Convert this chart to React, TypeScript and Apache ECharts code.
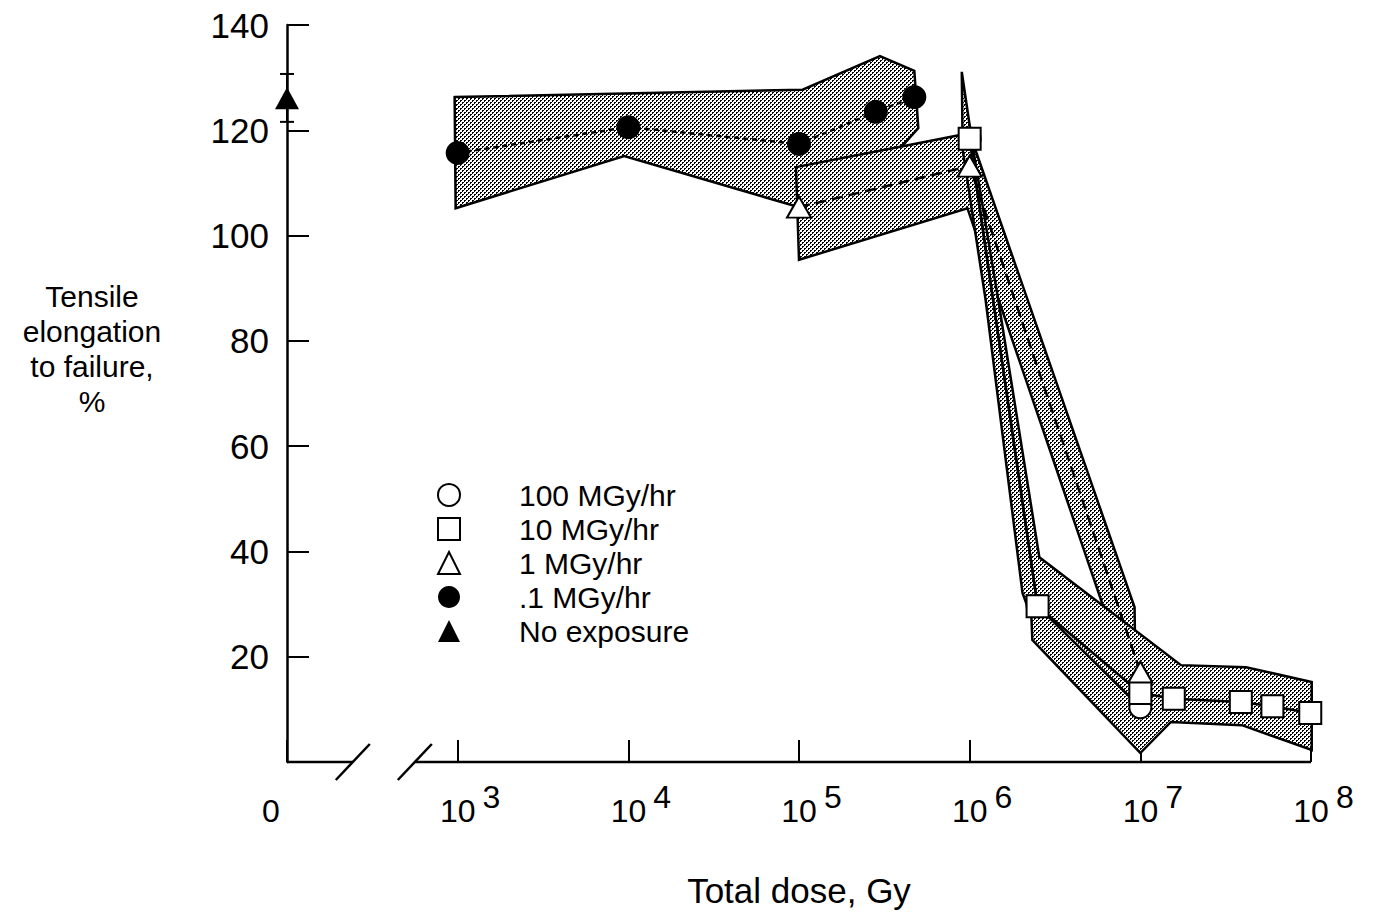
import React, { useEffect, useRef } from 'react';
import * as echarts from 'echarts';

const FONT = '"Liberation Sans", Arial, Helvetica, sans-serif';

// ---------- data (dose in Gy, value in %) ----------
const seriesNames = ['100 MGy/hr', '10 MGy/hr', '1 MGy/hr', '.1 MGy/hr', 'No exposure'];

const rate100Dose = [1e6, 2.5e6, 1e7];
const rate100Value = [118.4, 29.6, 10.4];

const rate10Dose = [1e6, 2.5e6, 1e7, 1.57e7, 3.88e7, 5.94e7, 9.9e7];
const rate10Value = [118.4, 29.6, 13.1, 12.0, 11.4, 10.6, 9.3];

const rate1Dose = [1e5, 1e6, 1e7];
const rate1Value = [105.4, 113.2, 17.1];

const rate01Dose = [1e3, 1e4, 1e5, 2.82e5, 4.74e5];
const rate01Value = [115.7, 120.6, 117.4, 123.5, 126.3];

const noExposureDose = [100];
const noExposureValue = [126.1];
const noExposureLow = [121.6];
const noExposureHigh = [130.7];

// scatter bands (polygon outlines), [dose, value]
const band01: number[][] = [
  [960, 126.3], [1.05e5, 127.7], [2.98e5, 134.1], [4.74e5, 131.3], [5.0e5, 120.4],
  [2.61e5, 110.2], [1e5, 105.4], [9.46e3, 115.1], [973, 105.2],
];
const band1: number[][] = [
  [9.6e4, 113.0], [1.01e6, 119.5], [1.08e6, 116.3], [9.25e6, 29.4], [9.35e6, 18.4],
  [6.45e6, 27.0], [9.7e5, 105.2], [1e5, 95.4],
];
const band10: number[][] = [
  [8.99e5, 131.1], [1.05e6, 116.3], [1.47e6, 87.8], [2.56e6, 38.9], [1.73e7, 18.4],
  [4.16e7, 18.0], [1.01e8, 15.2], [1.01e8, 2.3], [3.94e7, 7.0], [1.51e7, 7.6],
  [1.0e7, 1.7], [2.33e6, 23.2], [2.30e6, 27.5], [2.04e6, 32.1], [1.24e6, 87.8],
  [9.1e5, 116.3],
];

// axes
const xMin = 100;
const xMax = 1e8;
const yMin = 0;
const yMax = 140;
const yInterval = 20;
const axisBreakDoses = [243, 561];

const zip = (xs: number[], ys: number[]) => xs.map((x, i) => [x, ys[i]]);

function makeHalftone() {
  const c = document.createElement('canvas');
  c.width = 4;
  c.height = 4;
  const g = c.getContext('2d')!;
  g.fillStyle = '#ffffff';
  g.fillRect(0, 0, 4, 4);
  g.fillStyle = '#000000';
  g.fillRect(0, 0, 2, 1);
  g.fillRect(0, 1, 1, 1);
  g.fillRect(2, 2, 2, 1);
  g.fillRect(2, 3, 1, 1);
  return c;
}

export default function App() {
  const ref = useRef<HTMLDivElement>(null);

  useEffect(() => {
    if (!ref.current) return;
    const chart = echarts.init(ref.current, undefined, { renderer: 'svg' });
    const pattern: any = { image: makeHalftone(), repeat: 'repeat' };

    const bandSeries = (pts: number[][]) => ({
      type: 'custom',
      coordinateSystem: 'cartesian2d',
      data: pts,
      encode: { x: 0, y: 1 },
      clip: false,
      silent: true,
      z: 1,
      renderItem: (params: any, api: any) => {
        if (params.dataIndex !== 0) return null;
        const points = pts.map((p) => api.coord(p));
        return {
          type: 'polygon',
          shape: { points },
          style: { fill: pattern, stroke: '#000', lineWidth: 2.5, lineJoin: 'miter' },
        };
      },
    });

    const blackLine = { stroke: '#000', lineWidth: 2.5 };

    const option: any = {
      animation: false,
      backgroundColor: '#fff',
      grid: { left: 287, right: 63, top: 25, bottom: 154, containLabel: false },
      xAxis: {
        type: 'log',
        logBase: 10,
        min: xMin,
        max: xMax,
        axisLine: { show: false },
        axisTick: { show: true, inside: true, length: 22, lineStyle: { color: '#000', width: 2 } },
        splitLine: { show: false },
        minorTick: { show: false },
        axisLabel: {
          showMinLabel: true,
          showMaxLabel: true,
          margin: 19,
          color: '#000',
          formatter: (v: number) => {
            if (v <= 100.5) return '{z|0}';
            const n = Math.round(Math.log10(v));
            return '{b|10}{s|' + n + '}';
          },
          rich: {
            b: { fontSize: 32, fontFamily: FONT, color: '#000', padding: [14, 0, 0, 25] },
            s: { fontSize: 32, fontFamily: FONT, color: '#000', padding: [0, 0, 14, 7] },
            z: { fontSize: 32, fontFamily: FONT, color: '#000', padding: [14, 32, 0, 0] },
          },
        },
        name: 'Total dose, Gy',
        nameLocation: 'middle',
        nameGap: 111,
        nameTextStyle: { fontSize: 35, fontFamily: FONT, color: '#000' },
      },
      yAxis: {
        type: 'value',
        min: yMin,
        max: yMax,
        interval: yInterval,
        axisLine: { show: true, lineStyle: { color: '#000', width: 2.5 } },
        axisTick: { show: true, inside: true, length: 22, lineStyle: { color: '#000', width: 2 } },
        splitLine: { show: false },
        axisLabel: {
          margin: 18,
          fontSize: 35,
          fontFamily: FONT,
          color: '#000',
          formatter: (v: number) => (v === 0 ? '' : String(v)),
        },
      },
      legend: {
        orient: 'vertical',
        left: 437,
        top: 480,
        padding: 0,
        itemWidth: 22,
        itemHeight: 22,
        itemGap: 4,
        selectedMode: false,
        textStyle: { fontSize: 30, fontFamily: FONT, color: '#000', padding: [0, 0, 0, 54] },
        data: [
          { name: seriesNames[0], icon: 'circle', itemStyle: { color: '#fff', borderColor: '#000', borderWidth: 2, opacity: 1 } },
          { name: seriesNames[1], icon: 'rect', itemStyle: { color: '#fff', borderColor: '#000', borderWidth: 2, opacity: 1 } },
          { name: seriesNames[2], icon: 'triangle', itemStyle: { color: '#fff', borderColor: '#000', borderWidth: 2, opacity: 1 } },
          { name: seriesNames[3], icon: 'circle', itemStyle: { color: '#000', borderColor: '#000', borderWidth: 0, opacity: 1 } },
          { name: seriesNames[4], icon: 'triangle', itemStyle: { color: '#000', borderColor: '#000', borderWidth: 0, opacity: 1 } },
        ],
      },
      graphic: [
        {
          type: 'text',
          x: 92,
          y: 279,
          style: {
            text: 'Tensile\nelongation\nto failure,\n%',
            fontSize: 30,
            fontFamily: FONT,
            fill: '#000',
            align: 'center',
            verticalAlign: 'top',
            lineHeight: 35,
          },
        },
      ],
      series: [
        // broken x axis line
        {
          type: 'custom',
          coordinateSystem: 'cartesian2d',
          data: [[xMin, 0]],
          clip: false,
          silent: true,
          z: 0,
          renderItem: (params: any, api: any) => {
            const o = api.coord([xMin, 0]);
            const a = api.coord([axisBreakDoses[0], 0]);
            const b = api.coord([axisBreakDoses[1], 0]);
            const e = api.coord([xMax, 0]);
            return {
              type: 'group',
              children: [
                { type: 'line', shape: { x1: o[0], y1: o[1], x2: a[0], y2: a[1] }, style: blackLine },
                { type: 'line', shape: { x1: b[0], y1: b[1], x2: e[0], y2: e[1] }, style: blackLine },
                { type: 'line', shape: { x1: a[0] - 17, y1: a[1] + 18, x2: a[0] + 17, y2: a[1] - 18 }, style: blackLine },
                { type: 'line', shape: { x1: b[0] - 17, y1: b[1] + 18, x2: b[0] + 17, y2: b[1] - 18 }, style: blackLine },
              ],
            };
          },
        },
        bandSeries(band01),
        bandSeries(band1),
        bandSeries(band10),
        {
          name: seriesNames[3],
          type: 'line',
          data: zip(rate01Dose, rate01Value),
          symbol: 'circle',
          symbolSize: 24,
          showAllSymbol: true,
          clip: false,
          z: 3,
          itemStyle: { color: '#000', borderColor: '#000', borderWidth: 0, opacity: 1 },
          lineStyle: { color: '#000', width: 2.5, type: [5, 4] },
        },
        {
          name: seriesNames[0],
          type: 'line',
          data: zip(rate100Dose, rate100Value),
          symbol: 'circle',
          symbolSize: 22,
          showAllSymbol: true,
          clip: false,
          z: 3,
          itemStyle: { color: '#fff', borderColor: '#000', borderWidth: 2, opacity: 1 },
          lineStyle: { color: '#000', width: 2.5, type: 'solid' },
        },
        {
          name: seriesNames[1],
          type: 'line',
          data: zip(rate10Dose, rate10Value),
          symbol: 'rect',
          symbolSize: 22,
          showAllSymbol: true,
          clip: false,
          z: 4,
          itemStyle: { color: '#fff', borderColor: '#000', borderWidth: 2, opacity: 1 },
          lineStyle: { color: '#000', width: 2.5, type: 'solid' },
        },
        {
          name: seriesNames[2],
          type: 'line',
          data: zip(rate1Dose, rate1Value),
          symbol: 'triangle',
          symbolSize: [24, 21],
          showAllSymbol: true,
          clip: false,
          z: 5,
          itemStyle: { color: '#fff', borderColor: '#000', borderWidth: 2, opacity: 1 },
          lineStyle: { color: '#000', width: 2.5, type: [11, 6] },
        },
        // error bar for unexposed sample
        {
          type: 'custom',
          coordinateSystem: 'cartesian2d',
          data: noExposureDose.map((d, i) => [d, noExposureLow[i], noExposureHigh[i]]),
          encode: { x: 0, y: [1, 2] },
          clip: false,
          silent: true,
          z: 5,
          renderItem: (params: any, api: any) => {
            const lo = api.coord([api.value(0), api.value(1)]);
            const hi = api.coord([api.value(0), api.value(2)]);
            return {
              type: 'group',
              children: [
                { type: 'line', shape: { x1: lo[0], y1: lo[1], x2: hi[0], y2: hi[1] }, style: { stroke: '#000', lineWidth: 2 } },
                { type: 'line', shape: { x1: lo[0] - 7, y1: lo[1], x2: lo[0] + 7, y2: lo[1] }, style: { stroke: '#000', lineWidth: 2 } },
                { type: 'line', shape: { x1: hi[0] - 7, y1: hi[1], x2: hi[0] + 7, y2: hi[1] }, style: { stroke: '#000', lineWidth: 2 } },
              ],
            };
          },
        },
        {
          name: seriesNames[4],
          type: 'scatter',
          data: zip(noExposureDose, noExposureValue),
          symbol: 'triangle',
          symbolSize: [24, 22],
          clip: false,
          z: 6,
          itemStyle: { color: '#000', opacity: 1 },
        },
      ],
    };

    chart.setOption(option);
    return () => chart.dispose();
  }, []);

  return (
    <div
      ref={ref}
      style={{ position: 'fixed', left: 0, top: 0, width: 1374, height: 916, background: '#fff' }}
    />
  );
}
